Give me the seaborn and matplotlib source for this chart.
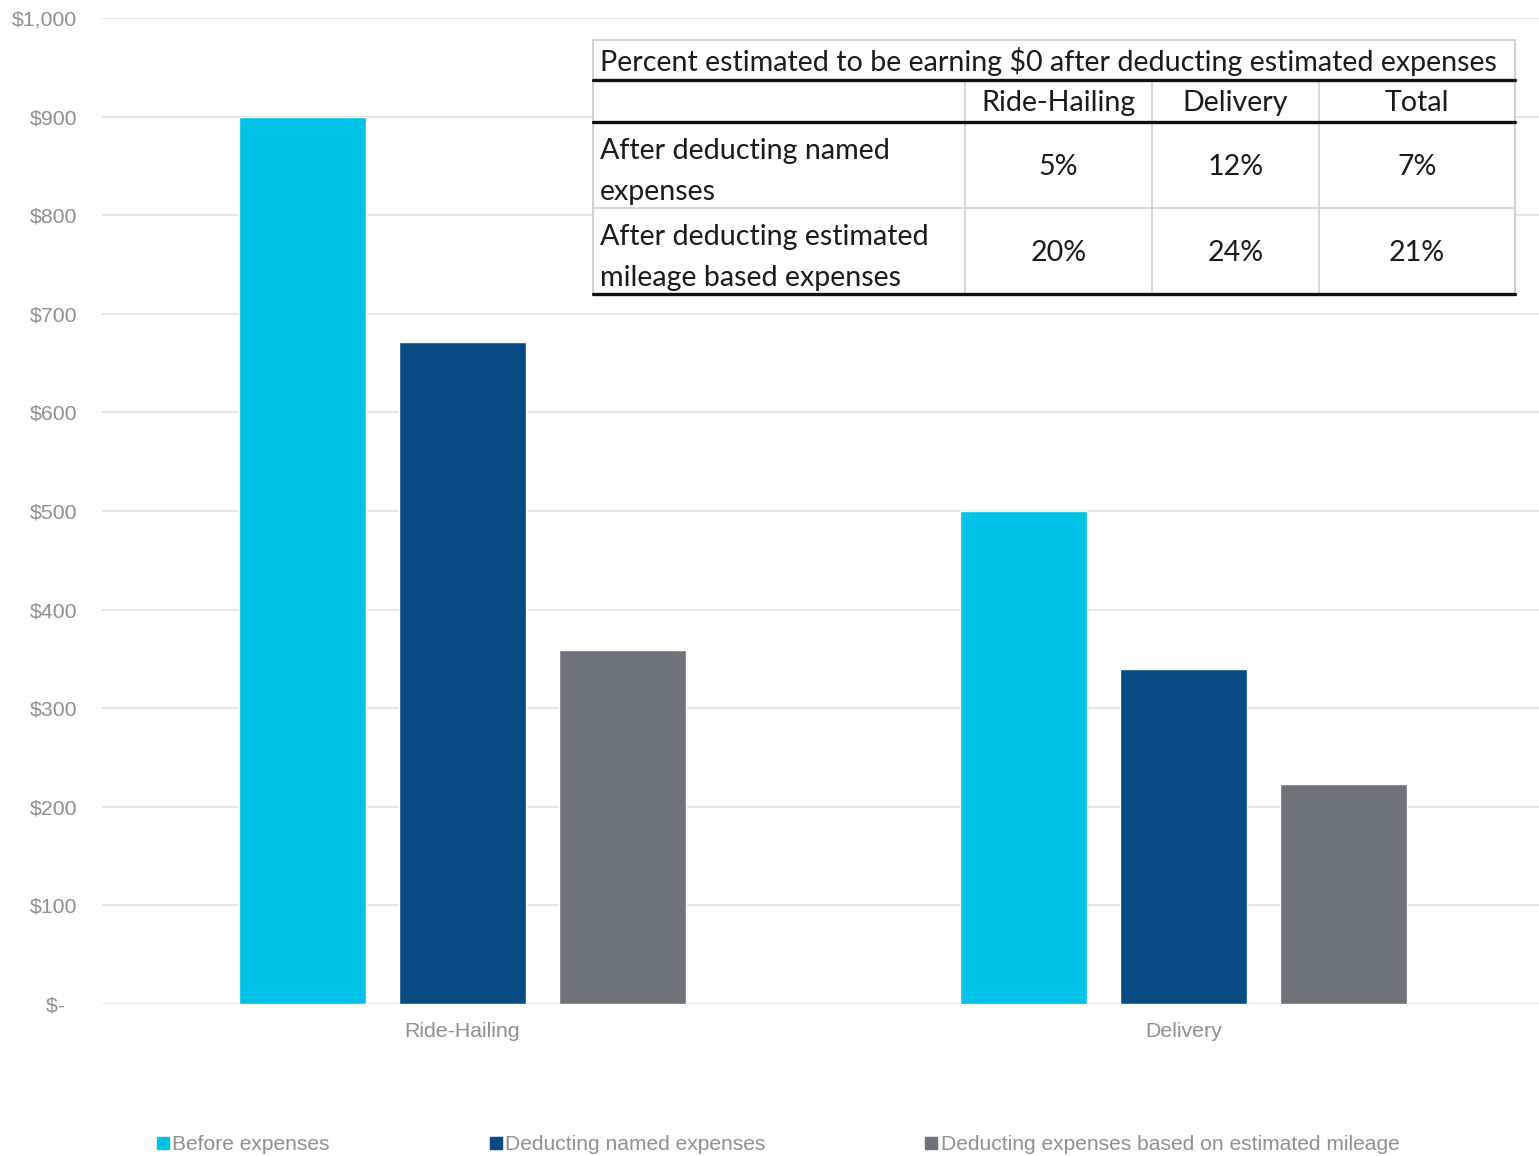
import matplotlib
matplotlib.use("Agg")
import matplotlib.pyplot as plt
import seaborn as sns
import pandas as pd
from matplotlib.lines import Line2D
from matplotlib.patches import Rectangle

# ---------------- data ----------------
categories = ["Ride-Hailing", "Delivery"]
series_names = ["Before expenses", "Deducting named expenses",
                "Deducting expenses based on estimated mileage"]
before_expenses = [900, 500]
named_expenses = [671, 340]
mileage_expenses = [359, 223]
y_ticks = [0, 100, 200, 300, 400, 500, 600, 700, 800, 900, 1000]
y_tick_labels = ["$-  ", "$100", "$200", "$300", "$400", "$500", "$600",
                 "$700", "$800", "$900", "$1,000"]
colors = ["#00C1E6", "#074A84", "#6C737A"]

table_title = "Percent estimated to be earning $0 after deducting estimated expenses"
table_cols = ["Ride-Hailing", "Delivery", "Total"]
table_rows = ["After deducting named\nexpenses",
              "After deducting estimated\nmileage based expenses"]
table_named = ["5%", "12%", "7%"]
table_mileage = ["20%", "24%", "21%"]

# ---------------- frame ----------------
rows = []
for s, vals in zip(series_names, [before_expenses, named_expenses, mileage_expenses]):
    for c, v in zip(categories, vals):
        rows.append({"category": c, "series": s, "value": v})
df = pd.DataFrame(rows)

sns.set_theme(style="white")
plt.rcParams["font.family"] = ["Liberation Sans", "DejaVu Sans"]

W, H = 1539, 1156
fig = plt.figure(figsize=(W / 100, H / 100), dpi=100)
ax = fig.add_axes([102 / W, 1 - 1004 / H, 1442 / W, (1004 - 18) / H])

sns.barplot(data=df, x="category", y="value", hue="series", order=categories,
            hue_order=series_names, palette=colors, width=0.666, gap=0.21,
            saturation=1, ax=ax, legend=False, errorbar=None)

ax.set_xlim(-0.5, 1.5)
ax.set_ylim(0, 1000)
ax.set_yticks(y_ticks)
ax.set_yticklabels(y_tick_labels)
ax.grid(axis="y", color="#e3e3e3", linewidth=1.3)
ax.set_axisbelow(True)
for sp in ax.spines.values():
    sp.set_visible(False)
ax.tick_params(axis="both", length=0, labelsize=15.3, colors="#8f8f8f")
ax.tick_params(axis="y", pad=18)
ax.tick_params(axis="x", pad=13)
ax.set_xlabel("")
ax.set_ylabel("")

# legend
handles = [Line2D([], [], marker="s", linestyle="none", markersize=8,
                  markerfacecolor=c, markeredgecolor=c) for c in colors]
leg = fig.legend(handles, series_names, loc="center", ncol=3,
                 bbox_to_anchor=(778 / W, 1 - 1145 / H), frameon=False,
                 fontsize=15.1, handlelength=0.6, handletextpad=0.15,
                 columnspacing=7.6, labelcolor="#8f8f8f")

# ---------------- table overlay ----------------
tx = fig.add_axes([0, 0, 1, 1])
tx.set_xlim(0, W)
tx.set_ylim(H, 0)
tx.axis("off")

L, R = 593, 1515
top, y1, y2, y3, bot = 40, 80, 122, 208, 294
cx = [965, 1152, 1319]
tx.add_patch(Rectangle((L, top), R - L, bot - top, facecolor="white",
                       edgecolor="#c8c8c8", linewidth=1.2, zorder=1))
gray = "#cfcfcf"
for x in cx:
    tx.plot([x, x], [y1, bot], color=gray, lw=1.2, zorder=2)
tx.plot([L, R], [y3, y3], color=gray, lw=1.2, zorder=2)
for y in (y1, y2, bot):
    tx.plot([L, R], [y, y], color="#111111", lw=2.4, zorder=3)

tf = ["Lato", "DejaVu Sans"]
tcol = "#1a1a1a"
tfs = 20.6
tx.text(600, (top + y1) / 2 + 2, table_title, ha="left", va="center",
        fontsize=tfs, family=tf, color=tcol, zorder=4)
col_centers = [(cx[0] + cx[1]) / 2, (cx[1] + cx[2]) / 2, (cx[2] + R) / 2]
for c, name in zip(col_centers, table_cols):
    tx.text(c, (y1 + y2) / 2 + 2, name, ha="center", va="center",
            fontsize=tfs, family=tf, color=tcol, zorder=4)
for (ya, yb), label, vals in zip([(y2, y3), (y3, bot)], table_rows,
                                 [table_named, table_mileage]):
    tx.text(600, (ya + yb) / 2 + 6.5, label, ha="left", va="center",
            fontsize=tfs, family=tf, color=tcol, linespacing=1.72, zorder=4)
    for c, v in zip(col_centers, vals):
        tx.text(c, (ya + yb) / 2 + 2, v, ha="center", va="center",
                fontsize=tfs, family=tf, color=tcol, zorder=4)

fig.savefig("out.png", dpi=100)
